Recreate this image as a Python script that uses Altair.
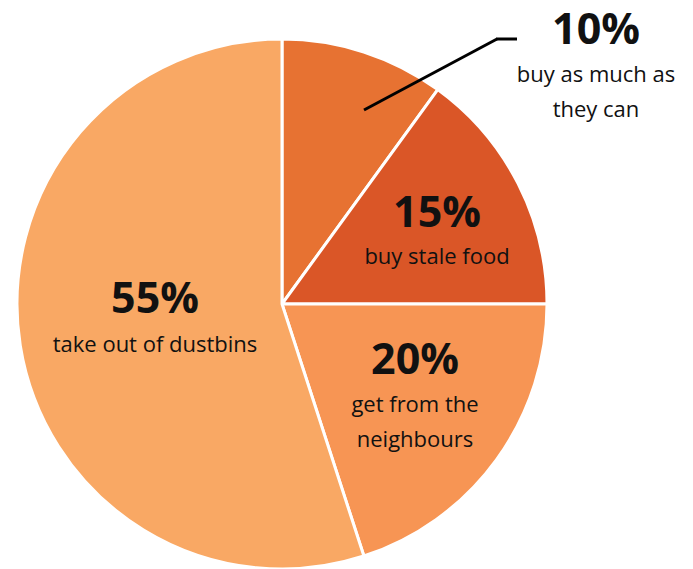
import altair as alt
import pandas as pd

categories = ["buy as much as they can", "buy stale food", "get from the neighbours", "take out of dustbins"]
values = [10, 15, 20, 55]
order = [1, 2, 3, 4]
colors = ["#E77232", "#DA5627", "#F79554", "#F9A864"]

df = pd.DataFrame({"category": categories, "value": values, "order": order})

FONT = "Open Sans"
OX, OY = 8, 8  # page margin offset

pie = alt.Chart(df).mark_arc(radius=265, stroke="white", strokeWidth=3).encode(
    theta=alt.Theta("value:Q", stack=True),
    order=alt.Order("order:Q"),
    color=alt.Color("category:N", scale=alt.Scale(domain=categories, range=colors), legend=None),
    x=alt.value(282 - OX),
    y=alt.value(304 - OY),
)

def txt(s, x, y, size, bold=False, align="center"):
    return alt.Chart(pd.DataFrame({"t": [s]})).mark_text(
        font=FONT, fontSize=size, fontWeight="bold" if bold else "normal",
        color="#111111", align=align, baseline="alphabetic",
    ).encode(text="t:N", x=alt.value(x - OX), y=alt.value(y - OY))

labels = [
    txt(f"{values[0]}%", 596, 44, 43, True),
    txt("buy as much as", 596, 82, 22),
    txt("they can", 596, 117, 22),
    txt(f"{values[1]}%", 437, 227, 43, True),
    txt("buy stale food", 437, 264, 22),
    txt(f"{values[2]}%", 415, 374, 43, True),
    txt("get from the", 415, 412, 22),
    txt("neighbours", 415, 447, 22),
    txt(f"{values[3]}%", 155, 313, 43, True),
    txt("take out of dustbins", 155, 352, 22),
]

lead1 = alt.Chart(pd.DataFrame({"a": [0]})).mark_rule(color="black", strokeWidth=3).encode(
    x=alt.value(364 - OX), y=alt.value(110 - OY), x2=alt.value(497 - OX), y2=alt.value(39 - OY)
)
lead2 = alt.Chart(pd.DataFrame({"a": [0]})).mark_rule(color="black", strokeWidth=3).encode(
    x=alt.value(496 - OX), y=alt.value(39 - OY), x2=alt.value(517 - OX), y2=alt.value(39 - OY)
)

chart = alt.layer(pie, lead1, lead2, *labels).properties(
    width=677, height=561, autosize=alt.AutoSizeParams(type="none"), padding=0
).configure_view(stroke=None)

chart.save("out.html", embed_options={"renderer": "svg", "actions": False})
